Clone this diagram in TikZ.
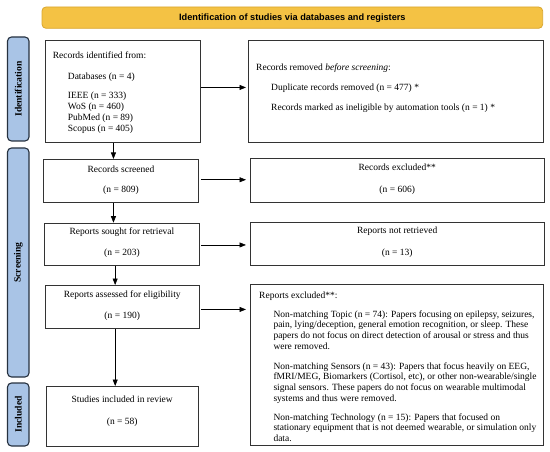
\documentclass[tikz,border=0pt]{standalone}
\usepackage{fontspec}
\setmainfont{Liberation Serif}
\newfontfamily\bannerfont{Liberation Sans}
\usetikzlibrary{arrows.meta}
\definecolor{bannerfill}{HTML}{F4C244}
\definecolor{bannerdraw}{HTML}{D9A62E}
\definecolor{sidefill}{HTML}{A9C4E6}
\definecolor{sidedraw}{HTML}{26313F}
\definecolor{boxdraw}{HTML}{333333}
\newcommand{\fsz}{\fontsize{9.5}{10.7}\selectfont}
\begin{document}
\begin{tikzpicture}[x=1pt,y=-1pt,
  box/.style={draw=boxdraw, line width=0.9pt, inner sep=0pt, anchor=north west},
  ln/.style={inner sep=0pt, text height=6.5pt, text depth=2pt, font=\fsz},
  lw/.style={ln, anchor=west},
  side/.style={draw=sidedraw, fill=sidefill, line width=1.1pt, rounded corners=4pt, rotate=90, inner sep=0pt, font=\fontsize{9.6}{10}\selectfont\bfseries},
  banner/.style={draw=bannerdraw, fill=bannerfill, line width=0.8pt, rounded corners=4pt, inner sep=0pt, font=\bannerfont\fontsize{9.2}{10}\selectfont\bfseries},
  arr/.style={-{Triangle[length=6.5pt,width=5pt]}, line width=0.6pt, draw=black}
]
\useasboundingbox (0,0) rectangle (550,452);

% banner
\node[banner, minimum width=500.7pt, minimum height=21.3pt] (ban) at (292.35,17.65) {Identification of studies via databases and registers};

% side bars
\node[side, minimum width=104pt, minimum height=21.5pt] (sid) at (18.25,89) {Identification};
\node[side, minimum width=229pt, minimum height=21.5pt] (ssc) at (18.25,262.5) {Screening};
\node[side, minimum width=63pt, minimum height=21.5pt] (sin) at (18.25,414.5) {Included};

% boxes
\node[box, minimum width=155.5pt, minimum height=101.7pt] (b1) at (44.5,40) {};
\node[box, minimum width=295.5pt, minimum height=102pt] (b2) at (247.5,40) {};
\node[box, minimum width=155pt, minimum height=43pt] (b3) at (43,159) {};
\node[box, minimum width=294.5pt, minimum height=44pt] (b4) at (249.5,158) {};
\node[box, minimum width=155pt, minimum height=42.3pt] (b5) at (44,222.7) {};
\node[box, minimum width=294.5pt, minimum height=43pt] (b6) at (249.5,222) {};
\node[box, minimum width=154.5pt, minimum height=43pt] (b7) at (44.5,285) {};
\node[box, minimum width=293.5pt, minimum height=161.5pt] (b8) at (249.5,283.5) {};
\node[box, minimum width=151.5pt, minimum height=60pt] (b9) at (46,386) {};

% box 1 text
\node[lw] (t1a) at (52.6,56) {Records identified from:};
\node[lw] (t1b) at (67.7,77) {Databases (n = 4)};
\node[lw] (t1c) at (67.7,96.5) {IEEE (n = 333)};
\node[lw] (t1d) at (67.7,107.3) {WoS (n = 460)};
\node[lw] (t1e) at (67.7,118.1) {PubMed (n = 89)};
\node[lw] (t1f) at (67.7,128.9) {Scopus (n = 405)};

% box 2 text
\node[lw] (t2a) at (256,68) {Records removed \textit{before screening}:};
\node[lw] (t2b) at (271,88) {Duplicate records removed (n = 477) *};
\node[lw] (t2c) at (271,108.5) {Records marked as ineligible by automation tools (n = 1) *};

% centered boxes
\node[ln] (t3a) at (b3.center |- 0,170) {Records screened};
\node[ln] (t3b) at (b3.center |- 0,190.7) {(n = 809)};
\node[ln] (t4a) at (b4.center |- 0,168.5) {Records excluded**};
\node[ln] (t4b) at (b4.center |- 0,190.7) {(n = 606)};
\node[ln] (t5a) at (b5.center |- 0,232.7) {Reports sought for retrieval};
\node[ln] (t5b) at (b5.center |- 0,253) {(n = 203)};
\node[ln] (t6a) at (b6.center |- 0,231.7) {Reports not retrieved};
\node[ln] (t6b) at (b6.center |- 0,253.3) {(n = 13)};
\node[ln] (t7a) at (b7.center |- 0,295) {Reports assessed for eligibility};
\node[ln] (t7b) at (b7.center |- 0,316) {(n = 190)};
\node[ln] (t9a) at (b9.center |- 0,400.7) {Studies included in review};
\node[ln] (t9b) at (b9.center |- 0,422.7) {(n = 58)};

% box 8 text
\node[lw] (t8a) at (259,296) {Reports excluded**:};
\node[lw] (t8b) at (273.3,315) {Non-matching Topic (n = 74): Papers focusing on epilepsy, seizures,};
\node[lw] (t8c) at (273.3,325.7) {pain, lying/deception, general emotion recognition, or sleep. These};
\node[lw] (t8d) at (273.3,336.4) {papers do not focus on direct detection of arousal or stress and thus};
\node[lw] (t8e) at (273.3,347.1) {were removed.};
\node[lw] (t8f) at (273.3,367) {Non-matching Sensors (n = 43): Papers that focus heavily on EEG,};
\node[lw] (t8g) at (273.3,377.7) {fMRI/MEG, Biomarkers (Cortisol, etc), or other non-wearable/single};
\node[lw] (t8h) at (273.3,388.4) {signal sensors. These papers do not focus on wearable multimodal};
\node[lw] (t8i) at (273.3,399.1) {systems and thus were removed.};
\node[lw] (t8j) at (273.3,418) {Non-matching Technology (n = 15): Papers that focused on};
\node[lw] (t8k) at (273.3,428.7) {stationary equipment that is not deemed wearable, or simulation only};
\node[lw] (t8l) at (273.3,439.4) {data.};

% vertical arrows
\draw[arr] ([xshift=-9.25pt]b1.south) -- ([xshift=-9.25pt]b1.south |- b3.north);
\draw[arr] ([xshift=-7.5pt]b3.south) -- ([xshift=-7.5pt]b3.south |- b5.north);
\draw[arr] ([xshift=-6.8pt]b5.south) -- ([xshift=-6.8pt]b5.south |- b7.north);
\draw[arr] ([xshift=-7pt]b7.south) -- ([xshift=-7pt]b7.south |- b9.north);

% horizontal arrows
\draw[arr, shorten <=0.5pt, shorten >=1.5pt] ([yshift=3.85pt]b1.east) -- ([yshift=3.85pt]b1.east -| b2.west);
\draw[arr, shorten <=2pt, shorten >=3.5pt] ([yshift=1.2pt]b3.east) -- ([yshift=1.2pt]b3.east -| b4.west);
\draw[arr, shorten <=1.5pt, shorten >=3.5pt] ([yshift=-0.65pt]b5.east) -- ([yshift=-0.65pt]b5.east -| b6.west);
\draw[arr, shorten <=1.5pt, shorten >=3.5pt] ([yshift=-2.5pt]b7.east) -- ([yshift=-2.5pt]b7.east -| b8.west);
\end{tikzpicture}
\end{document}
